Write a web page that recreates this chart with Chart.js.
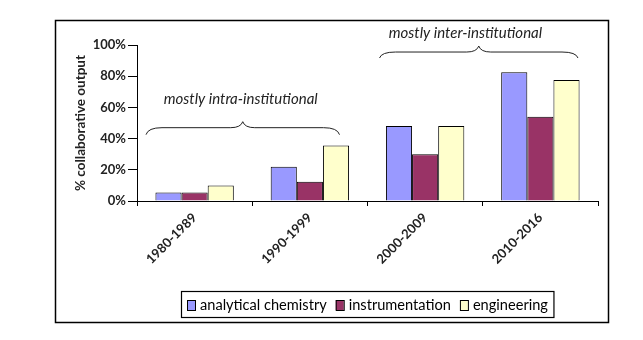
<!DOCTYPE html>
<html><head><meta charset="utf-8">
<script src="https://cdn.jsdelivr.net/npm/chart.js@4.4.1/dist/chart.umd.min.js"></script>
<style>html,body{margin:0;padding:0;background:#fff}#wrap{width:643px;height:340px}</style>
</head><body><div id="wrap"><canvas id="c" width="643" height="340"></canvas></div>
<script>
const categories = ['1980-1989', '1990-1999', '2000-2009', '2010-2016'];
const seriesNames = ['analytical chemistry', 'instrumentation', 'engineering'];
const analyticalChemistry = [5.4, 22, 48, 82.5];
const instrumentation = [5.4, 12.4, 30, 54];
const engineering = [10, 35.5, 48, 77.5];
const yTicks = [0, 20, 40, 60, 80, 100];
const annotations = ['mostly intra-institutional', 'mostly inter-institutional'];
const colors = ['#9999FF', '#993366', '#FFFFCC'];

const FONT = 'Lato, "Open Sans", sans-serif';

const decor = {
  id: 'decor',
  afterDraw(chart) {
    const ctx = chart.ctx;
    const xs = chart.scales.x, ys = chart.scales.y;
    const ca = chart.chartArea;
    ctx.save();
    // outer frame
    ctx.strokeStyle = '#000'; ctx.lineWidth = 1.5;
    ctx.strokeRect(55.5, 20.5, 553, 302);
    // y title
    ctx.save();
    ctx.translate(81, (ca.top + ca.bottom) / 2);
    ctx.rotate(-Math.PI / 2);
    ctx.fillStyle = '#222';
    ctx.font = 'bold 13.5px ' + FONT;
    ctx.textAlign = 'center'; ctx.textBaseline = 'middle';
    ctx.fillText('% collaborative output', 0, 0);
    ctx.restore();
    // braces
    const step = xs.getPixelForValue(1) - xs.getPixelForValue(0);
    function brace(x1, x2, y, h) {
      const xm = (x1 + x2) / 2;
      ctx.beginPath();
      ctx.moveTo(x1, y + h);
      ctx.quadraticCurveTo(x1 + 2, y, x1 + 16, y);
      ctx.lineTo(xm - 12, y);
      ctx.quadraticCurveTo(xm - 2, y, xm, y - 6);
      ctx.quadraticCurveTo(xm + 2, y, xm + 12, y);
      ctx.lineTo(x2 - 16, y);
      ctx.quadraticCurveTo(x2 - 2, y, x2, y + h);
      ctx.strokeStyle = '#222'; ctx.lineWidth = 1;
      ctx.stroke();
    }
    const c0 = xs.getPixelForValue(0) - step / 2;
    brace(c0 + 9, c0 + 2 * step - 28, ys.getPixelForValue(47), 7);
    brace(c0 + 2 * step + 12, c0 + 4 * step - 20, ys.getPixelForValue(95.5), 6);
    ctx.fillStyle = '#222';
    ctx.font = 'italic 15px ' + FONT;
    ctx.textAlign = 'center'; ctx.textBaseline = 'middle';
    ctx.fillText(annotations[0], c0 + step * 0.9, ys.getPixelForValue(65));
    ctx.fillText(annotations[1], c0 + step * 2.85, ys.getPixelForValue(107.5));
    // legend
    ctx.font = '14.6px ' + FONT;
    ctx.textBaseline = 'middle'; ctx.textAlign = 'left';
    let x = 187; const ly = 305;
    chart.data.datasets.forEach((ds, i) => {
      ctx.fillStyle = ds.backgroundColor;
      ctx.fillRect(x, ly - 5, 8, 10);
      ctx.strokeStyle = '#000'; ctx.lineWidth = 1;
      ctx.strokeRect(x + 0.5, ly - 4.5, 8, 10);
      x += 13;
      ctx.fillStyle = '#000';
      ctx.fillText(ds.label, x, ly);
      x += ctx.measureText(ds.label).width + 9;
    });
    ctx.strokeStyle = '#000'; ctx.lineWidth = 1.2;
    ctx.strokeRect(181.5, 291.5, (x - 9 + 6) - 181.5, 26);
    ctx.restore();
  }
};

new Chart(document.getElementById('c'), {
  type: 'bar',
  data: {
    labels: categories,
    datasets: [
      { label: seriesNames[0], data: analyticalChemistry, backgroundColor: colors[0] },
      { label: seriesNames[1], data: instrumentation, backgroundColor: colors[1] },
      { label: seriesNames[2], data: engineering, backgroundColor: colors[2] }
    ].map(d => Object.assign(d, { borderColor: '#000', borderWidth: 1, categoryPercentage: 0.68, barPercentage: 1 }))
  },
  options: {
    responsive: false,
    animation: false,
    devicePixelRatio: 1,
    layout: { padding: { left: 77, right: 45, top: 45, bottom: 58 } },
    plugins: { legend: { display: false }, tooltip: { enabled: false } },
    scales: {
      x: {
        afterFit(s) { s.height = 81; },
        grid: { offset: true, drawOnChartArea: false, drawTicks: true, tickLength: 5, color: '#000' },
        border: { color: '#000', width: 1 },
        ticks: { minRotation: 45, maxRotation: 45, color: '#222', font: { family: FONT, size: 13, weight: 'bold' }, padding: 4 }
      },
      y: {
        min: 0, max: 100,
        afterFit(s) { s.width = 60; },
        afterBuildTicks(s) { s.ticks = yTicks.map(v => ({ value: v })); },
        grid: { drawOnChartArea: false, drawTicks: true, tickLength: 9, color: '#000' },
        border: { color: '#000', width: 1 },
        ticks: { color: '#222', padding: 2, font: { family: FONT, size: 13, weight: 'bold' }, callback: v => v + '%' }
      }
    }
  },
  plugins: [decor]
});
</script></body></html>
